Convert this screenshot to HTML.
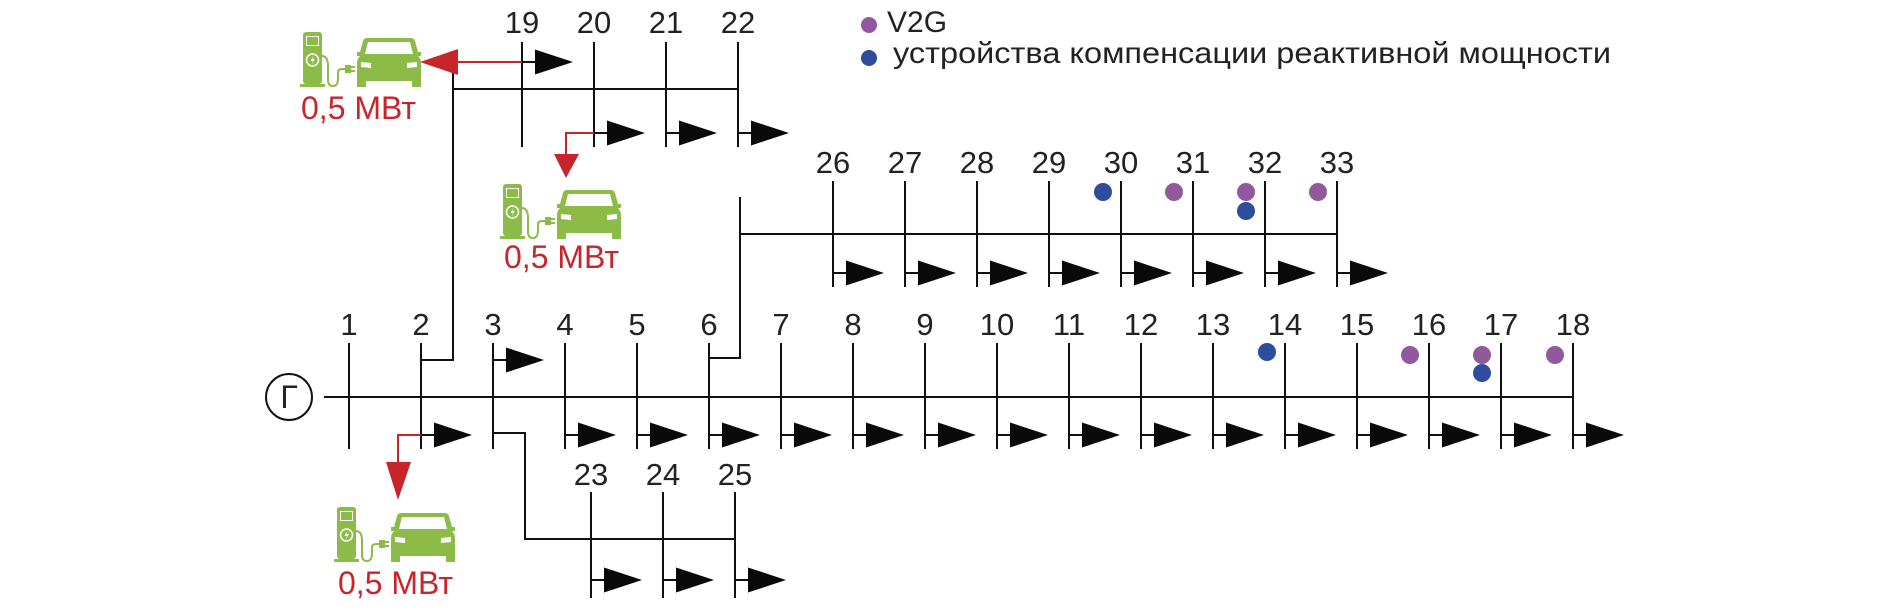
<!DOCTYPE html>
<html><head><meta charset="utf-8"><style>
html,body{margin:0;padding:0;background:#fff;}
svg{display:block;}
text{font-family:"Liberation Sans",Arial,sans-serif;}
</style></head><body>
<svg width="1903" height="611" viewBox="0 0 1903 611" xmlns="http://www.w3.org/2000/svg">
<defs>
<g id="ev">
  <rect x="3" y="0" width="19" height="52" rx="3" fill="#8dbb48"/>
  <rect x="6" y="4" width="13" height="10" fill="#fff"/>
  <rect x="7" y="5" width="11" height="8" fill="#8dbb48"/>
  <circle cx="12.5" cy="28" r="6" fill="none" stroke="#fff" stroke-width="1.5"/>
  <path d="M13.5 23.5 L10.5 29 L13 29 L11.5 33 L15 27 L12.5 27 Z" fill="#fff"/>
  <rect x="0" y="52" width="25" height="3" fill="#8dbb48"/>
  <path d="M22 24 Q28 24 28 34 L28 48 Q28 54 33 54 Q38 54 38 46 L38 40 Q38 37 43 37 L46 37" fill="none" stroke="#8dbb48" stroke-width="2"/>
  <rect x="45" y="33" width="6" height="8" fill="#8dbb48"/>
  <rect x="51" y="34" width="4" height="2" fill="#8dbb48"/>
  <rect x="51" y="38" width="4" height="2" fill="#8dbb48"/>
  <path d="M67 6 L111 6 Q114 6 115 9 L118 20 L121 20 L121 24 L118 24 Q121 27 121 31 L121 55 L112 55 L112 49 L66 49 L66 55 L57 55 L57 31 Q57 27 60 24 L57 24 L57 20 L60 20 L63 9 Q64 6 67 6 Z" fill="#8dbb48"/>
  <path d="M68 10 L110 10 L113 22 L65 22 Z" fill="#fff"/>
  <path d="M61 30 L71 31 L71 36 L61 35 Z" fill="#fff"/>
  <path d="M117 30 L107 31 L107 36 L117 35 Z" fill="#fff"/>
</g>
<g id="ld"><line x1="0" y1="0" x2="14" y2="0" stroke="#111" stroke-width="2"/><path d="M13 -12.5 L51 0 L13 12.5 Z" fill="#0a0a0a"/></g>
</defs>
<g stroke="#111" stroke-width="2" fill="none">
<!-- main line -->
<circle cx="289" cy="397" r="23"/>
<line x1="324" y1="397" x2="1573" y2="397"/>
<!-- main buses -->
<line x1="349" y1="343" x2="349" y2="449"/><line x1="421" y1="343" x2="421" y2="449"/><line x1="493" y1="343" x2="493" y2="449"/><line x1="565" y1="343" x2="565" y2="449"/><line x1="637" y1="343" x2="637" y2="449"/><line x1="709" y1="343" x2="709" y2="449"/><line x1="781" y1="343" x2="781" y2="449"/><line x1="853" y1="343" x2="853" y2="449"/><line x1="925" y1="343" x2="925" y2="449"/><line x1="997" y1="343" x2="997" y2="449"/><line x1="1069" y1="343" x2="1069" y2="449"/><line x1="1141" y1="343" x2="1141" y2="449"/><line x1="1213" y1="343" x2="1213" y2="449"/><line x1="1285" y1="343" x2="1285" y2="449"/><line x1="1357" y1="343" x2="1357" y2="449"/><line x1="1429" y1="343" x2="1429" y2="449"/><line x1="1501" y1="343" x2="1501" y2="449"/><line x1="1573" y1="343" x2="1573" y2="449"/>
<!-- bus2 branch up -->
<polyline points="421,360 453,360 453,72"/>
<line x1="453" y1="89" x2="738" y2="89"/>
<line x1="522" y1="42" x2="522" y2="147"/><line x1="594" y1="42" x2="594" y2="147"/><line x1="666" y1="42" x2="666" y2="147"/><line x1="738" y1="42" x2="738" y2="147"/>
<!-- bus3 branch down -->
<polyline points="493,433 525,433 525,539 735,539"/>
<line x1="591" y1="492" x2="591" y2="598"/><line x1="663" y1="492" x2="663" y2="598"/><line x1="735" y1="492" x2="735" y2="598"/>
<!-- bus6 branch up -->
<polyline points="709,358 740,358 740,197"/>
<line x1="740" y1="234" x2="1337" y2="234"/>
<line x1="833" y1="181" x2="833" y2="287"/><line x1="905" y1="181" x2="905" y2="287"/><line x1="977" y1="181" x2="977" y2="287"/><line x1="1049" y1="181" x2="1049" y2="287"/><line x1="1121" y1="181" x2="1121" y2="287"/><line x1="1193" y1="181" x2="1193" y2="287"/><line x1="1265" y1="181" x2="1265" y2="287"/><line x1="1337" y1="181" x2="1337" y2="287"/>
</g>
<!-- loads -->
<use href="#ld" x="421" y="435"/><use href="#ld" x="493" y="360"/>
<use href="#ld" x="565" y="435"/><use href="#ld" x="637" y="435"/><use href="#ld" x="709" y="435"/><use href="#ld" x="781" y="435"/><use href="#ld" x="853" y="435"/><use href="#ld" x="925" y="435"/><use href="#ld" x="997" y="435"/><use href="#ld" x="1069" y="435"/><use href="#ld" x="1141" y="435"/><use href="#ld" x="1213" y="435"/><use href="#ld" x="1285" y="435"/><use href="#ld" x="1357" y="435"/><use href="#ld" x="1429" y="435"/><use href="#ld" x="1501" y="435"/><use href="#ld" x="1573" y="435"/>
<use href="#ld" x="522" y="62"/><use href="#ld" x="594" y="133"/><use href="#ld" x="666" y="133"/><use href="#ld" x="738" y="133"/>
<use href="#ld" x="591" y="580"/><use href="#ld" x="663" y="580"/><use href="#ld" x="735" y="580"/>
<use href="#ld" x="833" y="273"/><use href="#ld" x="905" y="273"/><use href="#ld" x="977" y="273"/><use href="#ld" x="1049" y="273"/><use href="#ld" x="1121" y="273"/><use href="#ld" x="1193" y="273"/><use href="#ld" x="1265" y="273"/><use href="#ld" x="1337" y="273"/>
<!-- red arrows -->
<g stroke="#c8252b" stroke-width="2" fill="none">
<line x1="522" y1="62" x2="456" y2="62"/>
<polyline points="594,133 566,133 566,156"/>
<polyline points="421,435 398,435 398,464"/>
</g>
<g fill="#c8252b">
<path d="M458 49 L458 75 L420 62 Z"/>
<path d="M554 154 L579 154 L566 178 Z"/>
<path d="M386 462 L411 462 L398 500 Z"/>
</g>
<!-- EV icons -->
<use href="#ev" x="300" y="32"/>
<use href="#ev" x="500" y="184"/>
<use href="#ev" x="334" y="507"/>
<g fill="#c8252b" font-size="32">
<text x="301" y="119">0,5 МВт</text>
<text x="504" y="268">0,5 МВт</text>
<text x="338" y="594">0,5 МВт</text>
</g>
<!-- dots -->
<g fill="#91589e">
<circle cx="869" cy="25" r="8"/>
<circle cx="1174" cy="192" r="9"/><circle cx="1246" cy="192" r="9"/><circle cx="1318" cy="192" r="9"/>
<circle cx="1410" cy="355" r="9"/><circle cx="1482" cy="355" r="9"/><circle cx="1555" cy="355" r="9"/>
</g>
<g fill="#2e4d9b">
<circle cx="869" cy="58" r="8"/>
<circle cx="1103" cy="192" r="9"/><circle cx="1246" cy="211" r="9"/>
<circle cx="1267" cy="352" r="9"/><circle cx="1482" cy="373" r="9"/>
</g>
<!-- labels -->
<g fill="#222" font-size="31" text-anchor="middle">
<text x="289" y="408" font-size="32">Г</text>
<text x="349" y="335">1</text><text x="421" y="335">2</text><text x="493" y="335">3</text><text x="565" y="335">4</text><text x="637" y="335">5</text><text x="709" y="335">6</text><text x="781" y="335">7</text><text x="853" y="335">8</text><text x="925" y="335">9</text><text x="997" y="335">10</text><text x="1069" y="335">11</text><text x="1141" y="335">12</text><text x="1213" y="335">13</text><text x="1285" y="335">14</text><text x="1357" y="335">15</text><text x="1429" y="335">16</text><text x="1501" y="335">17</text><text x="1573" y="335">18</text>
<text x="522" y="33">19</text><text x="594" y="33">20</text><text x="666" y="33">21</text><text x="738" y="33">22</text>
<text x="591" y="485">23</text><text x="663" y="485">24</text><text x="735" y="485">25</text>
<text x="833" y="173">26</text><text x="905" y="173">27</text><text x="977" y="173">28</text><text x="1049" y="173">29</text><text x="1121" y="173">30</text><text x="1193" y="173">31</text><text x="1265" y="173">32</text><text x="1337" y="173">33</text>
</g>
<g fill="#222" font-size="30">
<text x="887" y="32">V2G</text>
<text x="893" y="63" textLength="718" lengthAdjust="spacingAndGlyphs">устройства компенсации реактивной мощности</text>
</g>
</svg>
</body></html>
